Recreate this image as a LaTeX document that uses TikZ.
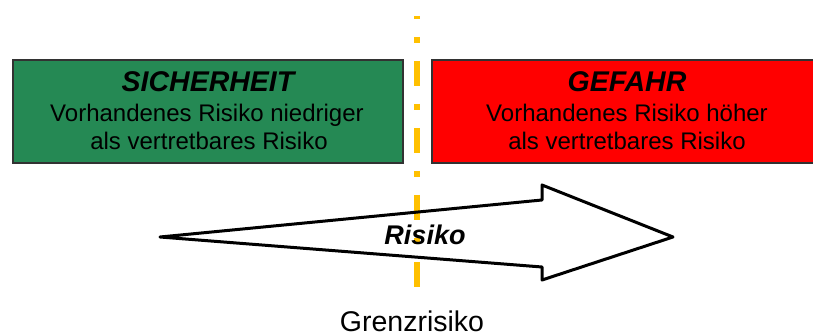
\documentclass[tikz,border=0pt]{standalone}
\usepackage{fontspec}
\setmainfont{Liberation Sans}
\definecolor{sgreen}{RGB}{37,137,84}
\definecolor{gred}{RGB}{255,0,0}
\definecolor{grenzgelb}{RGB}{255,192,0}
\definecolor{rahmen}{RGB}{50,50,50}
\begin{document}
\begin{tikzpicture}[x=1pt,y=-1pt,
  box/.style={draw=rahmen, line width=1.3pt, minimum width=390pt, minimum height=103pt, inner sep=0pt},
  titel/.style={anchor=base, font=\bfseries\itshape\fontsize{28.5}{30}\selectfont},
  body/.style={anchor=base, font=\fontsize{24}{26}\selectfont},
  grenz/.style={draw=grenzgelb, line width=6pt, line cap=butt, dash pattern=on 25pt off 18pt on 6pt off 18pt, dash phase=22pt},
  pfeil/.style={draw=black, line width=3pt, line join=round}]
\useasboundingbox (0,0) rectangle (813,336);
\fill[white] (0,0) rectangle (813,336);
% Grenzlinie
\coordinate (gtop) at (417,16);
\coordinate (gbot) at (417,288);
\draw[grenz] (gtop) -- (gbot);
% Boxes
\node[box, fill=sgreen] (sich) at (208,111.5) {};
\node[box, fill=gred, minimum width=388pt] (gef) at (626,111.5) {};
\node[titel] (sichT) at (208,92) {SICHERHEIT};
\node[body] (sich1) at (207,122) {Vorhandenes Risiko niedriger};
\node[body] (sich2) at (209,150) {als vertretbares Risiko};
\node[titel] (gefT) at (627,92) {GEFAHR};
\node[body] (gef1) at (627,122) {Vorhandenes Risiko höher};
\node[body] (gef2) at (627,150) {als vertretbares Risiko};
% Pfeil
\coordinate (a1) at (160,237);
\coordinate (a2) at (542,200);
\coordinate (a3) at (542,185);
\coordinate (a4) at (673,237);
\coordinate (a5) at (542,280);
\coordinate (a6) at (542,267);
\draw[pfeil] (a1) -- (a2) -- (a3) -- (a4) -- (a5) -- (a6) -- cycle;
\node[anchor=base, font=\bfseries\itshape\fontsize{27}{29}\selectfont] (risiko) at (425,245) {Risiko};
\node[anchor=base, font=\fontsize{28.5}{30}\selectfont] (grenzr) at (412,331) {Grenzrisiko};
\end{tikzpicture}
\end{document}
